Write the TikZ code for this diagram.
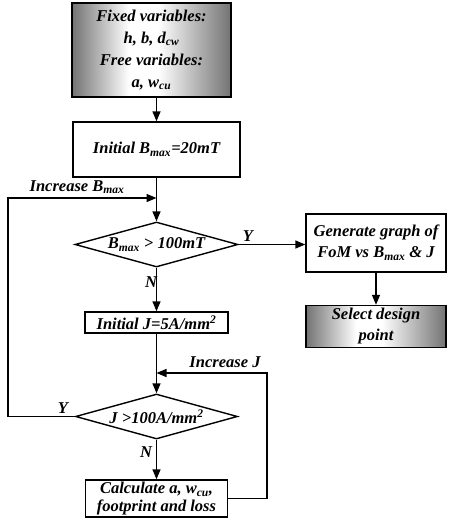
\documentclass[tikz,border=0pt]{standalone}
\usepackage{fontspec}
\setmainfont{Liberation Serif}
\usetikzlibrary{shapes.geometric,arrows.meta}
\pgfdeclarehorizontalshading{greybar}{100bp}{color(0bp)=(black!55); color(25bp)=(black!55); color(43bp)=(white); color(52bp)=(white); color(75bp)=(black!55); color(100bp)=(black!55)}

\begin{document}
\begin{tikzpicture}[x=1pt,y=-1pt,line width=1.4pt,
    font=\fontsize{16.5}{21}\selectfont\bfseries\itshape,
    box/.style={draw,rectangle,align=center,inner sep=0pt},
    shadebox/.style={box,shading=greybar},
    test/.style={draw,diamond,aspect=3.6,inner sep=0pt},
    flow/.style={-{Triangle[length=10pt,width=8pt]}}]
        \useasboundingbox (0,0) rectangle (448,528);
        % boxes of the main loop
        \node[shadebox,minimum width=159pt,minimum height=94pt] (vars) at (151.5,50)
            {Fixed variables:\\[1pt] h, b, d\textsubscript{cw}\\[1pt] Free variables:\\[1pt] a, w\textsubscript{cu}};
        \node[box,minimum width=167pt,minimum height=55pt] (binit) at (156.5,149.5) {Initial B\textsubscript{max}=20mT};
        \node[test,minimum width=163pt,minimum height=45pt] (btest) at (156.5,244.5) {B\textsubscript{max} > 100mT};
        \node[box,minimum width=143pt,minimum height=21pt] (jinit) at (156.5,322.5) {Initial J=5A/mm\textsuperscript{2}};
        \node[test,minimum width=162pt,minimum height=45pt] (jtest) at (156.5,416.5) {J >100A/mm\textsuperscript{2}};
        \node[box,minimum width=142pt,minimum height=37pt] (calc) at (156.5,498.5) {Calculate a, w\textsubscript{cu},\\[-3pt] footprint and loss};
        % right column
        \node[box,minimum width=140pt,minimum height=58pt] (graph) at (376,243) {Generate graph of\\ FoM vs B\textsubscript{max} \& J};
        \node[shadebox,minimum width=140pt,minimum height=42pt] (select) at (376,326.5) {Select design\\ point};
        % loop corners
        \coordinate (bloop) at (156.5,198);
        \coordinate (bleft) at (8,198);
        \coordinate (jloop) at (156.5,373);
        \coordinate (jright) at (267,373);
        % labels
        \node (incb) at (77,187) {Increase B\textsubscript{max}};
        \node (incj) at (225,362) {Increase J};
        \node (by) at (248,236) {Y};
        \node (bn) at (151,282) {N};
        \node (jy) at (63,408) {Y};
        \node (jn) at (146,452) {N};
        % connectors
        \draw[flow] (vars.south -| binit.north) -- (binit);
        \draw[flow] (binit) -- (btest);
        \draw[flow] (btest.east) -- (btest.east -| graph.west);
        \draw[flow] (graph) -- (select);
        \draw[flow] (btest) -- (jinit);
        \draw[flow] (jinit) -- (jtest);
        \draw[flow] (jtest) -- (calc);
        \draw[flow] (calc.east) -| (jright) -- (jloop);
        \draw[flow] (jtest.west) -| (bleft) -- (bloop);
\end{tikzpicture}
\end{document}
